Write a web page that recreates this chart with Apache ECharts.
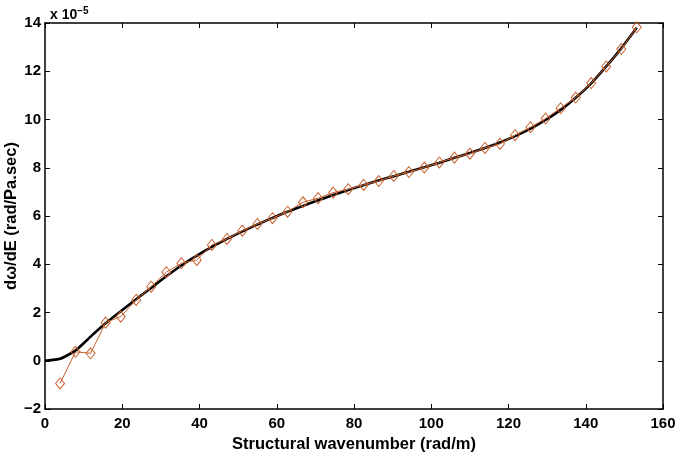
<!DOCTYPE html>
<html>
<head>
<meta charset="utf-8">
<script src="https://cdn.jsdelivr.net/npm/echarts@6/dist/echarts.min.js"></script>
<style>
  html, body { margin: 0; padding: 0; background: #fff; }
  #chart { width: 678px; height: 454px; }
</style>
</head>
<body>
<div id="chart"></div>
<script>
// wavenumber samples (rad/m)
const wavenumber = [3.9, 7.9, 11.8, 15.7, 19.6, 23.6, 27.5, 31.4, 35.3, 39.3,
  43.2, 47.1, 51.1, 55.0, 58.9, 62.8, 66.8, 70.7, 74.6, 78.5,
  82.5, 86.4, 90.3, 94.2, 98.2, 102.1, 106.0, 110.0, 113.9, 117.8,
  121.7, 125.7, 129.6, 133.5, 137.4, 141.4, 145.3, 149.2, 153.2];

// diamonds (x 1e-5)
const measured = [-0.94, 0.37, 0.31, 1.58, 1.83, 2.52, 3.07, 3.67, 4.04, 4.18,
  4.80, 5.05, 5.39, 5.67, 5.91, 6.18, 6.57, 6.74, 6.97, 7.11,
  7.29, 7.45, 7.66, 7.82, 8.01, 8.22, 8.42, 8.58, 8.82, 8.99,
  9.35, 9.68, 10.04, 10.47, 10.91, 11.51, 12.20, 12.92, 13.82];

// black curve, starts at origin
const curveX = [0].concat(wavenumber);
const curveY = [0, 0.08, 0.42, 1.0, 1.55, 2.05, 2.55, 3.02, 3.5, 3.95, 4.36,
  4.72, 5.05, 5.36, 5.65, 5.92, 6.18, 6.42, 6.65, 6.87, 7.08,
  7.28, 7.47, 7.65, 7.83, 8.02, 8.21, 8.41, 8.61, 8.82, 9.05,
  9.31, 9.62, 9.98, 10.4, 10.9, 11.5, 12.2, 12.95, 13.8];

const orange = '#c8602c';
const font = 'Liberation Sans, Arial, sans-serif';

const chart = echarts.init(document.getElementById('chart'));

const lbl = { color: '#000', fontFamily: font, fontWeight: 'bold', fontSize: 15 };
const nameLbl = { color: '#000', fontFamily: font, fontWeight: 'bold', fontSize: 16.5 };
const axLine = { show: true, onZero: false, lineStyle: { color: '#000', width: 1.5 } };
const tick = { show: true, inside: true, length: 5, lineStyle: { color: '#000', width: 1 } };

chart.setOption({
  animation: false,
  backgroundColor: '#fff',
  title: {
    text: 'x 10{sup|\u22125}',
    left: 45,
    top: 1,
    textStyle: {
      color: '#000', fontFamily: font, fontWeight: 'bold', fontSize: 14,
      rich: {
        sup: { color: '#000', fontFamily: font, fontWeight: 'bold', fontSize: 10, verticalAlign: 'top', padding: [0, 0, 8, 0] }
      }
    }
  },
  grid: { left: 45, right: 15, top: 23, bottom: 45, outerBoundsMode: 'none', containLabel: false },
  xAxis: [{
    type: 'value', min: 0, max: 160, interval: 20,
    name: 'Structural wavenumber (rad/m)', nameLocation: 'middle', nameGap: 24,
    nameTextStyle: nameLbl,
    axisLine: axLine, axisTick: tick, splitLine: { show: false },
    axisLabel: Object.assign({ margin: 7 }, lbl)
  }, {
    type: 'value', min: 0, max: 160, interval: 20, position: 'top',
    axisLine: axLine, axisTick: tick, splitLine: { show: false },
    axisLabel: { show: false }
  }],
  yAxis: [{
    type: 'value', min: -2, max: 14, interval: 2,
    name: 'd\u03c9/dE (rad/Pa.sec)', nameLocation: 'middle', nameGap: 25,
    nameMoveOverlap: false,
    nameTextStyle: nameLbl,
    axisLine: axLine, axisTick: tick, splitLine: { show: false },
    axisLabel: Object.assign({ margin: 4,
      formatter: v => v < 0 ? '\u2212' + Math.abs(v) : String(v) }, lbl)
  }, {
    type: 'value', min: -2, max: 14, interval: 2, position: 'right',
    axisLine: axLine, axisTick: tick, splitLine: { show: false },
    axisLabel: { show: false }
  }],
  series: [{
    type: 'line',
    data: curveX.map((x, i) => [x, curveY[i]]),
    smooth: 0.15,
    symbol: 'none',
    lineStyle: { color: '#000', width: 2.6 },
    z: 2
  }, {
    type: 'line',
    data: wavenumber.map((x, i) => [x, measured[i]]),
    symbol: 'diamond',
    symbolSize: [9, 11],
    lineStyle: { color: orange, width: 1 },
    itemStyle: { color: 'rgba(255,255,255,0)', borderColor: orange, borderWidth: 1 },
    z: 3
  }]
});
</script>
</body>
</html>
